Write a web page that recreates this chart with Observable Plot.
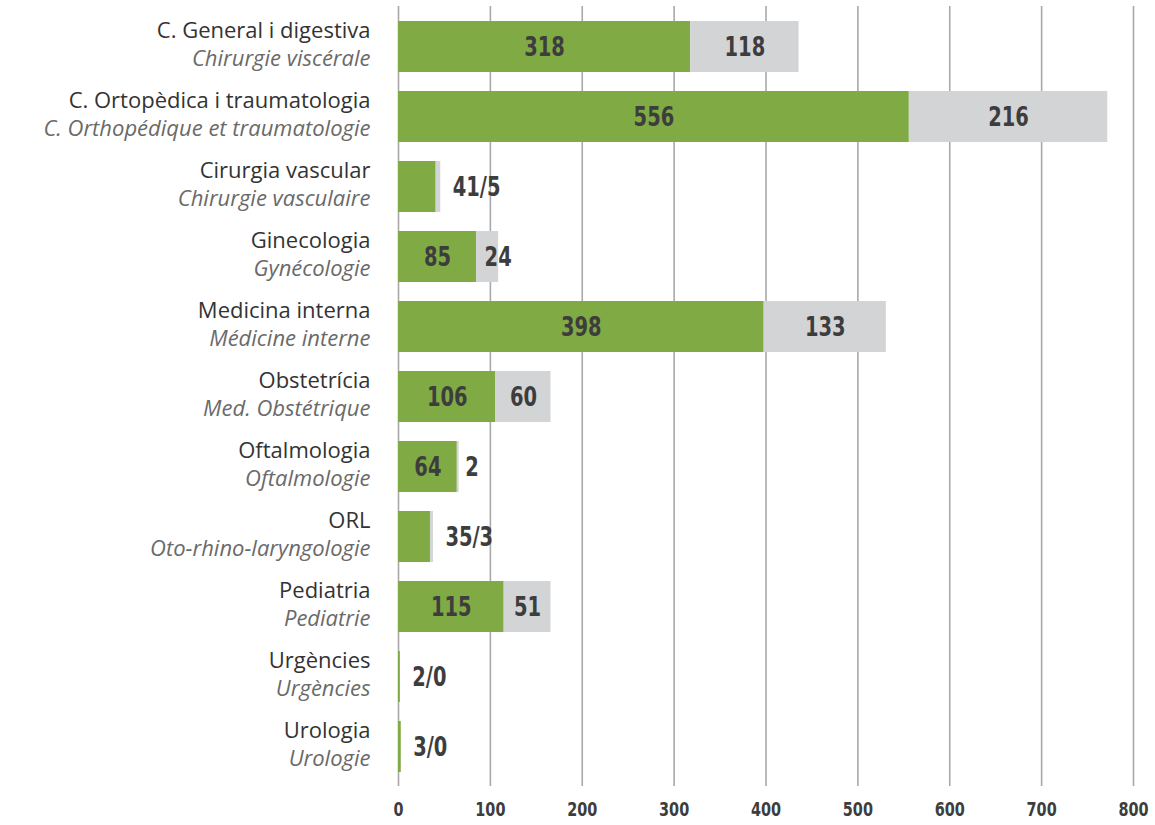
<!DOCTYPE html>
<html>
<head>
<meta charset="utf-8">
<script src="https://cdn.jsdelivr.net/npm/d3@7"></script>
<script src="https://cdn.jsdelivr.net/npm/@observablehq/plot@0.6"></script>
<style>
  html, body { margin: 0; padding: 0; background: #ffffff; }
  #chart { width: 1155px; height: 825px; }
</style>
</head>
<body>
<div id="chart"></div>
<script>
const catalan = [
  "C. General i digestiva",
  "C. Ortopèdica i traumatologia",
  "Cirurgia vascular",
  "Ginecologia",
  "Medicina interna",
  "Obstetrícia",
  "Oftalmologia",
  "ORL",
  "Pediatria",
  "Urgències",
  "Urologia"
];
const french = [
  "Chirurgie viscérale",
  "C. Orthopédique et traumatologie",
  "Chirurgie vasculaire",
  "Gynécologie",
  "Médicine interne",
  "Med. Obstétrique",
  "Oftalmologie",
  "Oto-rhino-laryngologie",
  "Pediatrie",
  "Urgències",
  "Urologie"
];
const greenValues = [318, 556, 41, 85, 398, 106, 64, 35, 115, 2, 3];
const greyValues  = [118, 216, 5, 24, 133, 60, 2, 3, 51, 0, 0];
const xTicks = [0, 100, 200, 300, 400, 500, 600, 700, 800];

const GREEN = "#80aa44";
const GREY = "#d3d4d6";
const TEXT = "#3d3d3d";
const NUMFONT = "'DejaVu Sans Condensed', sans-serif";
const LABFONT = "'Open Sans', Lato, sans-serif";

// Stacked bar table
const bars = [];
catalan.forEach((c, i) => {
  bars.push({cat: c, series: "S1", value: greenValues[i]});
  bars.push({cat: c, series: "S2", value: greyValues[i]});
});

// Value labels derived from values
const centered = [], combined = [], afterGreen = [], afterTotal = [];
catalan.forEach((c, i) => {
  const g = greenValues[i], r = greyValues[i], t = g + r;
  if (g < 50) {
    combined.push({cat: c, x: t, text: `${g}/${r}`});
  } else {
    centered.push({cat: c, x: g / 2, text: String(g)});
    if (r >= 40) centered.push({cat: c, x: g + r / 2, text: String(r)});
    else if (r >= 10) afterGreen.push({cat: c, x: g, text: String(r)});
    else afterTotal.push({cat: c, x: t, text: String(r)});
  }
});

const numStyle = {fontSize: 27, fontWeight: "bold", fontFamily: NUMFONT, fill: TEXT, className: "numlab"};

const chart = Plot.plot({
  width: 1155,
  height: 825,
  marginLeft: 398,
  marginRight: 22,
  marginTop: 6,
  marginBottom: 39,
  style: {background: "transparent", overflow: "visible"},
  x: {domain: [0, 800], ticks: xTicks, label: null},
  y: {domain: catalan, paddingInner: 0.2745, paddingOuter: 0.185, label: null},
  color: {domain: ["S1", "S2"], range: [GREEN, GREY]},
  marks: [
    Plot.gridX(xTicks, {stroke: "#a9a9a9", strokeOpacity: 1, strokeWidth: 1.6}),
    Plot.barX(bars, {x: "value", y: "cat", fill: "series", order: null}),
    Plot.axisX({
      ticks: xTicks,
      tickSize: 0,
      tickPadding: 15,
      fontSize: 20,
      fontWeight: "bold",
      fontFamily: NUMFONT,
      fill: TEXT,
      className: "numlab",
      label: null
    }),
    Plot.axisY({ticks: [], label: null, tickSize: 0}),
    Plot.text(catalan, {
      x: () => 0, y: d => d, text: d => d,
      textAnchor: "end", dx: -28, dy: -16,
      fontSize: 22, fontFamily: LABFONT, fill: "#333333"
    }),
    Plot.text(catalan, {
      x: () => 0, y: d => d, text: (d, i) => french[i],
      textAnchor: "end", dx: -28, dy: 12,
      fontSize: 22, fontStyle: "italic", fontFamily: LABFONT, fill: "#6a6a6a"
    }),
    Plot.text(centered, {x: "x", y: "cat", text: "text", ...numStyle}),
    Plot.text(combined, {x: "x", y: "cat", text: "text", textAnchor: "start", dx: 12, ...numStyle}),
    Plot.text(afterGreen, {x: "x", y: "cat", text: "text", textAnchor: "start", dx: 8, ...numStyle}),
    Plot.text(afterTotal, {x: "x", y: "cat", text: "text", textAnchor: "start", dx: 6, ...numStyle})
  ]
});
document.getElementById("chart").appendChild(chart);

// Narrow the bold numerals to imitate a condensed face
chart.querySelectorAll(".numlab text, text.numlab").forEach(t => {
  const w = t.getComputedTextLength();
  if (w > 0) {
    t.setAttribute("textLength", (w * 0.8).toFixed(1));
    t.setAttribute("lengthAdjust", "spacingAndGlyphs");
  }
});
</script>
</body>
</html>
